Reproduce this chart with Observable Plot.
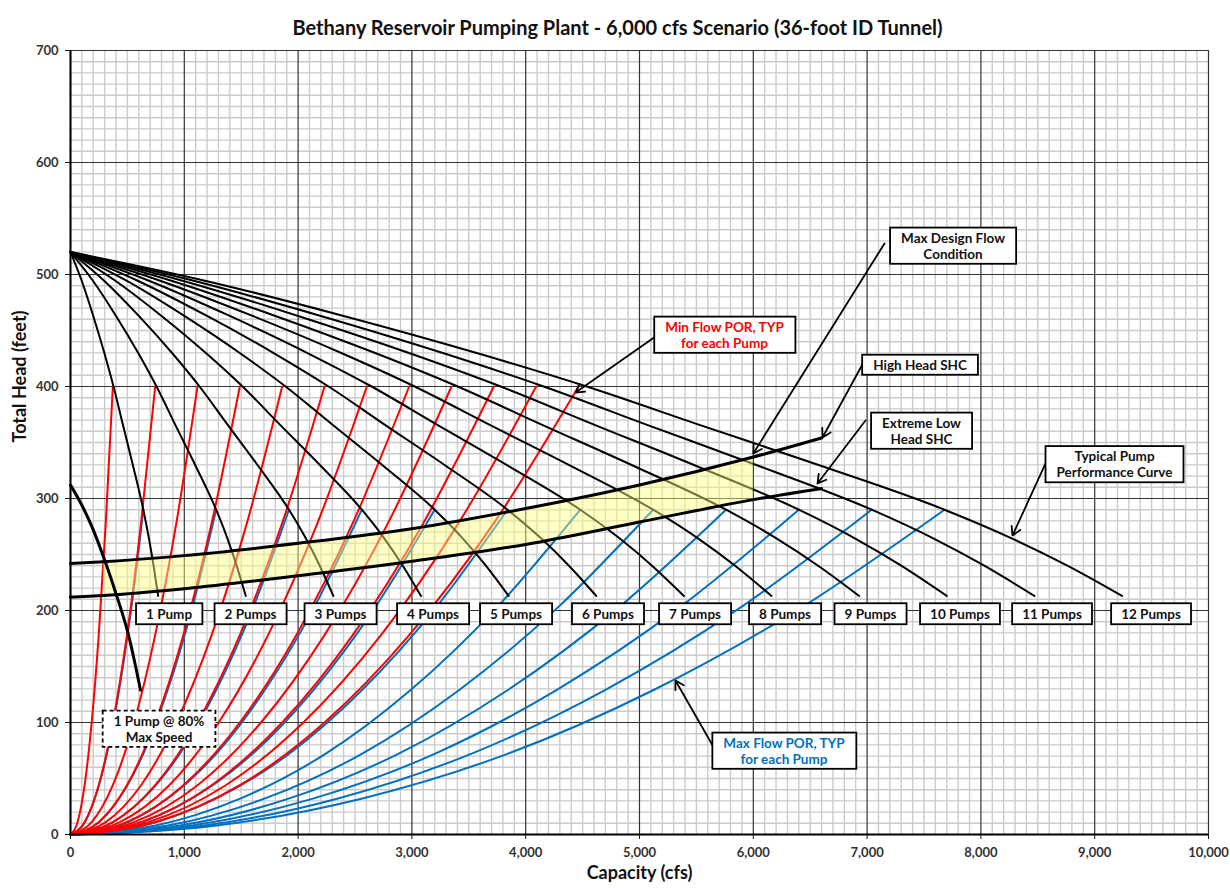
<!DOCTYPE html>
<html>
<head>
<meta charset="utf-8">
<script src="https://cdn.jsdelivr.net/npm/d3@7"></script>
<script src="https://cdn.jsdelivr.net/npm/@observablehq/plot@0.6"></script>
<style>
  html, body { margin: 0; padding: 0; background: #fff; }
  svg { display: block; }
</style>
</head>
<body>
<div id="chart"></div>
<script>
// ---------------- DATA ----------------
const chartTitle = "Bethany Reservoir Pumping Plant - 6,000 cfs Scenario (36-foot ID Tunnel)";
const xLabel = "Capacity (cfs)";
const yLabel = "Total Head (feet)";
const xTicks = [0, 1000, 2000, 3000, 4000, 5000, 6000, 7000, 8000, 9000, 10000];
const yTicks = [0, 100, 200, 300, 400, 500, 600, 700];

// number of pumps running (one curve family member each)
const pumpCounts = [1, 2, 3, 4, 5, 6, 7, 8, 9, 10, 11, 12];

// typical single-pump performance curve (flow per pump, cfs -> head, ft)
const pumpCurveFlow = [0, 100, 200, 300, 378, 460, 550, 640, 690, 730, 770];
const pumpCurveHead = [520, 494, 463, 429, 400, 366, 329, 290, 264, 240, 213];

// min-flow POR curve for one pump (red)
const minPorFlow = [0, 62, 124, 186, 248, 310, 372];
const minPorHead = [0, 11, 44, 100, 178, 278, 400];

// max-flow POR curve for one pump (blue)
const maxPorFlow = [0, 107, 213, 320, 427, 533, 640];
const maxPorHead = [0, 8, 32, 72, 129, 201, 290];

// one pump at 80% max speed
const speed80Flow = [0, 100, 200, 307, 400, 510, 615];
const speed80Head = [312, 294, 272, 243, 215, 178, 129];

// system head curves
const shcFlow = [0, 290, 1000, 2000, 3000, 4000, 5000, 6000, 6600];
const shcHighHead = [242, 243.5, 249, 260, 273, 291, 312, 337, 354];
const shcLowHead = [212, 213.5, 219.5, 231, 244, 259, 279, 299, 309];
const operatingFlowMin = 290;
const operatingFlowMax = 6000;

// pump-count labels
const pumpLabels = ["1 Pump", "2 Pumps", "3 Pumps", "4 Pumps", "5 Pumps", "6 Pumps",
  "7 Pumps", "8 Pumps", "9 Pumps", "10 Pumps", "11 Pumps", "12 Pumps"];
const pumpLabelFlow = [866, 1582, 2373, 3186, 3915, 4723, 5488, 6279, 7030, 7816, 8625, 9495];
const pumpLabelHead = 196.5;

// callouts
const calloutText = [
  "Min Flow POR, TYP\nfor each Pump",
  "Max Design Flow\nCondition",
  "High Head SHC",
  "Extreme Low\nHead SHC",
  "Typical Pump\nPerformance Curve",
  "Max Flow POR, TYP\nfor each Pump",
  "1 Pump @ 80%\nMax Speed"
];
const calloutColor = ["#ff0000", "#111111", "#111111", "#111111", "#111111", "#0070c0", "#111111"];
const calloutDashed = [false, false, false, false, false, false, true];
const calloutFlow = [5747, 7755, 7465, 7478, 9174, 6270, 778];
const calloutHead = [446.4, 525.9, 419.6, 360.7, 330.8, 75, 94.6];
const arrowFromFlow = [5141, 7153, 6968, 6986, 8568, 5668, null];
const arrowFromHead = [444.6, 527.7, 421.4, 369.6, 331.3, 75, null];
const arrowToFlow = [4438, 6000, 6608, 6564, 8278, 5316, null];
const arrowToHead = [394.6, 340.2, 354.5, 313.4, 267, 137.5, null];

// ---------------- TABLES ----------------
const family = (flows, heads) =>
  pumpCounts.flatMap(n => flows.map((q, i) => ({n, q: q * n, h: heads[i]})));
const pumpRows = family(pumpCurveFlow, pumpCurveHead);
const minPorRows = family(minPorFlow, minPorHead);
const maxPorRows = family(maxPorFlow, maxPorHead);
const speed80Rows = speed80Flow.map((q, i) => ({q, h: speed80Head[i]}));
const shcRows = shcFlow.map((q, i) => ({q, hi: shcHighHead[i], lo: shcLowHead[i]}));
const fillRows = shcRows.filter(d => d.q >= operatingFlowMin && d.q <= operatingFlowMax);
const labelRows = pumpLabels.map((t, i) => ({t, q: pumpLabelFlow[i], h: pumpLabelHead}));
const calloutRows = calloutText.map((t, i) => ({
  t, color: calloutColor[i], q: calloutFlow[i], h: calloutHead[i],
  x1: arrowFromFlow[i], y1: arrowFromHead[i], x2: arrowToFlow[i], y2: arrowToHead[i]
}));
const arrowRows = calloutRows.filter(d => d.x1 != null);

const minorX = d3.range(0, 10001, 100).filter(v => v % 1000 !== 0);
const minorY = d3.range(0, 701, 10).filter(v => v % 100 !== 0);

// ---------------- PLOT ----------------
const font = "Lato, 'Open Sans', sans-serif";
const plot = Plot.plot({
  width: 1230,
  height: 888,
  marginLeft: 70,
  marginRight: 22,
  marginTop: 50,
  marginBottom: 54,
  style: {fontFamily: font, background: "#ffffff", color: "#111"},
  x: {domain: [0, 10000], label: null},
  y: {domain: [0, 700], label: null},
  marks: [
    Plot.ruleX(minorX, {stroke: "#cbcbcb", strokeWidth: 1.4}),
    Plot.ruleY(minorY, {stroke: "#cbcbcb", strokeWidth: 1.4}),
    Plot.ruleX(xTicks, {stroke: "#333333", strokeWidth: 1.2}),
    Plot.ruleY(yTicks, {stroke: "#333333", strokeWidth: 1.2}),

    Plot.line(maxPorRows, {x: "q", y: "h", z: "n", stroke: "#0070c0", strokeWidth: 2, curve: "monotone-x"}),
    Plot.line(minPorRows, {x: "q", y: "h", z: "n", stroke: "#ff0000", strokeWidth: 2, curve: "monotone-x"}),
    Plot.line(pumpRows, {x: "q", y: "h", z: "n", stroke: "#000", strokeWidth: 2, curve: "monotone-x"}),

    Plot.areaY(fillRows, {x: "q", y1: "lo", y2: "hi", fill: "#ffff80", fillOpacity: 0.45, curve: "monotone-x"}),
    Plot.line(shcRows, {x: "q", y: "hi", stroke: "#000", strokeWidth: 3, curve: "monotone-x"}),
    Plot.line(shcRows, {x: "q", y: "lo", stroke: "#000", strokeWidth: 3, curve: "monotone-x"}),
    Plot.line(speed80Rows, {x: "q", y: "h", stroke: "#000", strokeWidth: 3, curve: "monotone-x"}),

    Plot.ruleX([0], {stroke: "#000", strokeWidth: 2}),
    Plot.ruleY([0], {stroke: "#000", strokeWidth: 2}),

    Plot.axisX({ticks: xTicks, tickFormat: d3.format(","), tickSize: 5, tickPadding: 8,
      fontSize: 13, fontWeight: "bold", fill: "#333", label: null}),
    Plot.axisY({ticks: yTicks, tickSize: 5, tickPadding: 7,
      fontSize: 13, fontWeight: "bold", fill: "#333", label: null}),

    Plot.arrow(arrowRows, {x1: "x1", y1: "y1", x2: "x2", y2: "y2", stroke: "#000",
      strokeWidth: 1.8, headLength: 8}),

    Plot.text(labelRows, {x: "q", y: "h", text: "t", fontSize: 13.5, fontWeight: "bold",
      fill: "#111"}),
    Plot.text(calloutRows, {x: "q", y: "h", text: "t", fill: "color", fontSize: 13.5,
      fontWeight: "bold", lineHeight: 1.2}),

    Plot.text([chartTitle], {text: d => d, frameAnchor: "top", dy: -30, dx: -22,
      fontSize: 20, fontWeight: "bold", fill: "#111"}),
    Plot.text([yLabel], {text: d => d, frameAnchor: "left", rotate: -90, dx: -50,
      fontSize: 18, fontWeight: "bold", fill: "#111"}),
    Plot.text([xLabel], {text: d => d, frameAnchor: "bottom", dy: 44,
      fontSize: 18, fontWeight: "bold", fill: "#111"})
  ]
});

document.getElementById("chart").append(plot);

// boxed labels: draw a white rectangle behind each label text
const textGroups = plot.querySelectorAll('g[aria-label="text"]');
function boxTexts(group, padX, padY, dashed) {
  if (!group) return;
  group.querySelectorAll("text").forEach((t, i) => {
    const b = t.getBBox();
    const r = document.createElementNS("http://www.w3.org/2000/svg", "rect");
    r.setAttribute("x", b.x - padX);
    r.setAttribute("y", b.y - padY);
    r.setAttribute("width", b.width + 2 * padX);
    r.setAttribute("height", b.height + 2 * padY);
    const tr = t.getAttribute("transform");
    if (tr) r.setAttribute("transform", tr);
    r.setAttribute("fill", "#ffffff");
    r.setAttribute("stroke", "#000");
    r.setAttribute("stroke-width", "1.8");
    if (dashed && dashed[i]) r.setAttribute("stroke-dasharray", "4 3");
    t.parentNode.insertBefore(r, t);
  });
}
boxTexts(textGroups[0], 10, 2.5, null);
boxTexts(textGroups[1], 11, 2, calloutDashed);
</script>
</body>
</html>
